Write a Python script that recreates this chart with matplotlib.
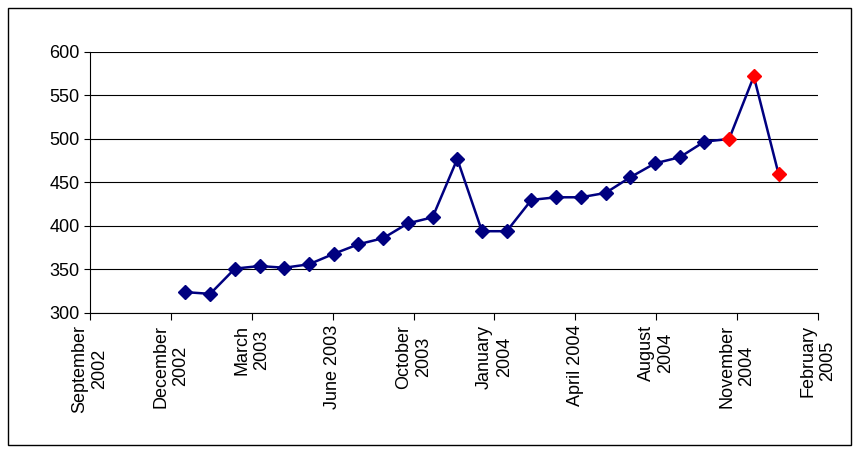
import matplotlib
matplotlib.use("Agg")
import matplotlib.pyplot as plt
import numpy as np

tick_labels = ["September\n2002", "December\n2002", "March\n2003", "June 2003", "October\n2003",
               "January\n2004", "April 2004", "August\n2004", "November\n2004", "February\n2005"]
# month index of each observation
months = list(range(25))
values = [324, 322, 351, 354, 352, 356, 368, 379, 386, 403, 410, 477, 394, 394,
          430, 433, 433, 438, 456, 472, 479, 497, 500, 572, 460]
red_from = 22

plt.rcParams['font.family'] = ['Liberation Sans', 'DejaVu Sans']
fig = plt.figure(figsize=(8.6, 4.51), dpi=100)
fig.patches.append(plt.Rectangle((0.009, 0.013), 0.98, 0.97, transform=fig.transFigure,
                                 fill=False, edgecolor='black', lw=1))
ax = fig.add_axes([90/860, 1-313/451, 728/860, 261/451])

x = 118 + 30.55 * np.array(months)
ax.plot(x, values, color='#000080', lw=1.8, zorder=2)
ax.plot(x[:red_from], values[:red_from], 'D', color='#000080', ms=7.5, zorder=3)
ax.plot(x[red_from:], values[red_from:], 'D', color='red', ms=7.5, zorder=3)

ax.set_xlim(0, 900)
ax.set_ylim(300, 600)
ax.set_yticks(range(300, 601, 50))
ax.set_xticks(np.arange(0, 901, 100))
ax.set_xticklabels(tick_labels, rotation=90, fontsize=13, ha='center', va='top', multialignment='center')
ax.tick_params(axis='y', labelsize=13, direction='out', length=4)
ax.tick_params(axis='x', direction='out', length=5)
ax.yaxis.grid(True, color='black', lw=0.8)
ax.set_axisbelow(True)
for s in ['top', 'right']:
    ax.spines[s].set_visible(False)
fig.savefig("out.png", dpi=100)
